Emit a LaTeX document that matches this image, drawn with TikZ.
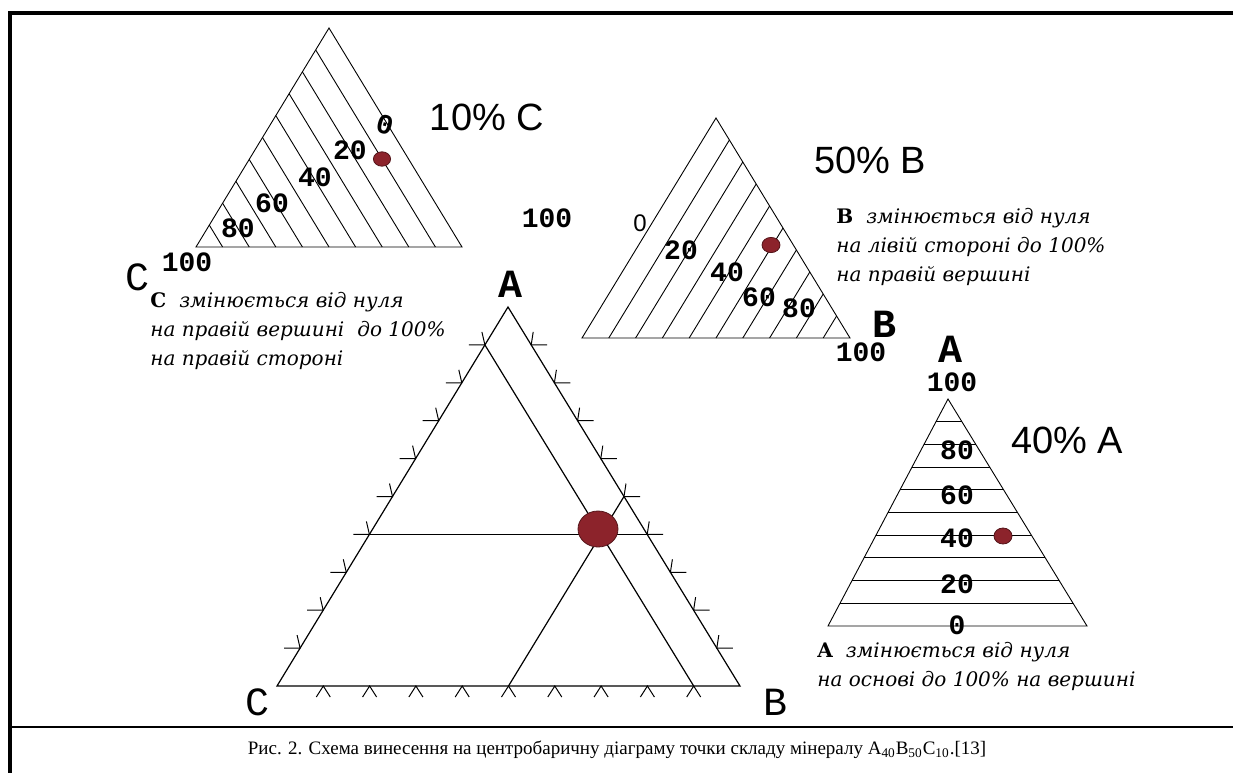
\documentclass[tikz,border=0pt]{standalone}
\usepackage{fontspec}
\setmainfont{Liberation Serif}
\newfontfamily\labfont{Liberation Mono}
\newfontfamily\pctfont{Liberation Sans}
\newfontfamily\notefont{DejaVu Serif}
\usepackage{tikz}
\usetikzlibrary{calc}
\definecolor{dotred}{HTML}{8C232B}

\tikzset{
  side/.style={line width=0.6pt},
  hatch/.style={line width=0.45pt},
  tickmark/.style={line width=0.5pt},
  num/.style={font=\labfont\bfseries\fontsize{14}{14}\selectfont, inner sep=0pt},
  thinnum/.style={font=\pctfont\fontsize{12}{12}\selectfont, inner sep=0pt},
  pct/.style={font=\pctfont\fontsize{19}{19}\selectfont, inner sep=0pt},
  vert/.style={font=\labfont\fontsize{20}{20}\selectfont, inner sep=0pt},
  boldvert/.style={font=\labfont\bfseries\fontsize{20}{20}\selectfont, inner sep=0pt},
  note/.style={font=\notefont\itshape\fontsize{10}{14.5}\selectfont, align=left, anchor=north west, inner sep=0pt},
  dot/.style={fill=dotred, draw=dotred!60!black, line width=0.4pt},
}

\begin{document}
\begin{tikzpicture}[x=0.5pt,y=-0.5pt]
\useasboundingbox (0,0) rectangle (1233,773);

% frame and caption
\draw[line width=1.6pt] (1233,13) -- (10,13) -- (10,773);
\draw[line width=1.2pt] (10,727) -- (1233,727);
\node[font=\fontsize{9.5}{11}\selectfont] (cap) at (617,750)
  {Рис. 2. Схема винесення на центробаричну діаграму точки складу мінералу A\textsubscript{40}B\textsubscript{50}C\textsubscript{10}.[13]};

% ---- main diagram ----
\coordinate (mA) at (508,307);
\coordinate (mB) at (740,686);
\coordinate (mC) at (277,686);
\draw[side] (mA) -- (mB) -- (mC) -- cycle;

\foreach \k in {1,...,9}{
  \draw[tickmark] ($(mA)!\k/10!(mC)$) ++(-16,0) -- ++(16,0) -- ++(-3,-13);
  \draw[tickmark] ($(mA)!\k/10!(mB)$) ++(16,0) -- ++(-16,0) -- ++(2,-13);
  \draw[tickmark] ($(mC)!\k/10!(mB)$) ++(-7,11) -- ++(7,-11) -- ++(7,11);
}

\draw[side] ($(mA)!0.6!(mC)$) -- ($(mA)!0.6!(mB)$);
\draw[side] ($(mC)!0.5!(mB)$) -- ($(mA)!0.5!(mB)$);
\draw[side] ($(mB)!0.1!(mC)$) -- ($(mA)!0.1!(mC)$);
\filldraw[dot] (598,529) ellipse [x radius=10pt, y radius=9pt];

\node[boldvert] (labA) at (510,284) {A};
\node[vert] (labC) at (258,702) {C};
\node[vert] (labB) at (775,702) {B};

% ---- C triangle ----
\coordinate (tA) at (329,28);
\coordinate (tL) at (196,247);
\coordinate (tR) at (462,247);
\draw[hatch] (tA) -- (tR) -- (tL) -- cycle;
\foreach \k in {1,...,9}
  \draw[hatch] ($(tL)!\k/10!(tR)$) -- ($(tL)!\k/10!(tA)$);
\filldraw[dot] (382,159) ellipse [x radius=4.3pt, y radius=3.6pt];

\node[num, rotate=-15] (c0) at (385,125) {0};
\node[num] (c20) at (350,150) {20};
\node[num] (c40) at (315,177) {40};
\node[num] (c60) at (272,203) {60};
\node[num] (c80) at (238,228) {80};
\node[num] (c100) at (187,262) {100};
\node[vert] (cname) at (138,277) {C};
\node[num] (c100r) at (547,218) {100};
\node[pct] (cpct) at (487,117) {10\% C};
\node[note] (cnote) at (150,292)
  {\textbf{\upshape C}\,\, змінюється від нуля\\
   на правій вершині\,\, до 100\%\\
   на правій стороні};

% ---- B triangle ----
\coordinate (uA) at (716,118);
\coordinate (uL) at (582,338);
\coordinate (uR) at (850,338);
\draw[hatch] (uA) -- (uR) -- (uL) -- cycle;
\foreach \k in {1,...,9}
  \draw[hatch] ($(uL)!\k/10!(uR)$) -- ($(uA)!\k/10!(uR)$);
\filldraw[dot] (771,245) ellipse [x radius=4.5pt, y radius=3.8pt];

\node[thinnum] (b0) at (640,223) {0};
\node[num] (b20) at (681,250) {20};
\node[num] (b40) at (727,272) {40};
\node[num] (b60) at (759,297) {60};
\node[num] (b80) at (799,308) {80};
\node[boldvert] (bname) at (884,324) {B};
\node[num] (b100) at (861,352) {100};
\node[pct] (bpct) at (870,160) {50\% B};
\node[note] (bnote) at (836,208)
  {\textbf{\upshape B}\,\, змінюється від нуля\\
   на лівій стороні до 100\%\\
   на правій вершині};

% ---- A triangle ----
\coordinate (rA) at (948,399);
\coordinate (rL) at (828,626);
\coordinate (rR) at (1087,626);
\draw[hatch] (rA) -- (rR) -- (rL) -- cycle;
\foreach \k in {1,...,9}
  \draw[hatch] ($(rL)!\k/10!(rA)$) -- ($(rR)!\k/10!(rA)$);
\filldraw[dot] (1003,536) ellipse [x radius=4.5pt, y radius=4pt];

\node[boldvert] (aname) at (950,349) {A};
\node[num] (a100) at (952,382) {100};
\node[num] (a80) at (957,450) {80};
\node[num] (a60) at (957,495) {60};
\node[num] (a40) at (957,538) {40};
\node[num] (a20) at (957,584) {20};
\node[num] (a0) at (957,625) {0};
\node[pct] (apct) at (1067,440) {40\% A};
\node[note] (anote) at (817,642)
  {\textbf{\upshape A}\,\, змінюється від нуля\\
   на основі до 100\% на вершині};
\end{tikzpicture}
\end{document}
